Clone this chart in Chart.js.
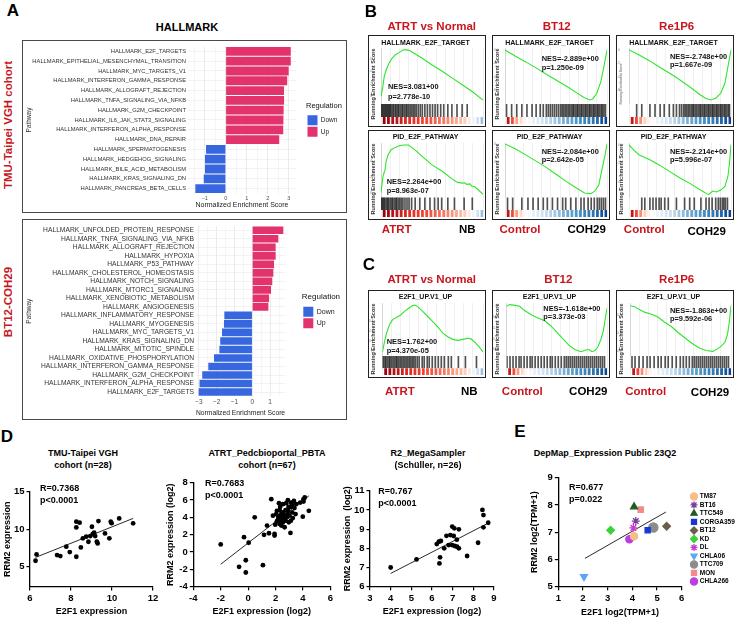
<!DOCTYPE html>
<html>
<head>
<meta charset="utf-8">
<title>E2F1 / RRM2 figure</title>
<script src="https://cdn.jsdelivr.net/npm/chart.js@4.4.1/dist/chart.umd.min.js"></script>
<style>
  html, body { margin: 0; padding: 0; background: #fff; }
  #fig { position: relative; width: 740px; height: 619px; overflow: hidden; background: #fff;
         font-family: 'Liberation Sans', Arial, Helvetica, sans-serif; }
  #fig canvas { position: absolute; }
  .t { position: absolute; white-space: nowrap; line-height: 1; }
  .frame { position: absolute; box-sizing: border-box; pointer-events: none; }
</style>
</head>
<body>
<div id="fig"></div>
<script>
// ---------- A: hallmark NES bars ----------
const tmuPathways = [
  'HALLMARK_E2F_TARGETS', 'HALLMARK_EPITHELIAL_MESENCHYMAL_TRANSITION', 'HALLMARK_MYC_TARGETS_V1',
  'HALLMARK_INTERFERON_GAMMA_RESPONSE', 'HALLMARK_ALLOGRAFT_REJECTION', 'HALLMARK_TNFA_SIGNALING_VIA_NFKB',
  'HALLMARK_G2M_CHECKPOINT', 'HALLMARK_IL6_JAK_STAT3_SIGNALING', 'HALLMARK_INTERFERON_ALPHA_RESPONSE',
  'HALLMARK_DNA_REPAIR', 'HALLMARK_SPERMATOGENESIS', 'HALLMARK_HEDGEHOG_SIGNALING',
  'HALLMARK_BILE_ACID_METABOLISM', 'HALLMARK_KRAS_SIGNALING_DN', 'HALLMARK_PANCREAS_BETA_CELLS',
];
const tmuNes = [3.1, 3.1, 3.0, 2.93, 2.78, 2.78, 2.76, 2.75, 2.74, 2.55, -0.94, -0.99, -0.99, -1.05, -1.45];
const tmuNesTicks = [-1.5, -1, -0.5, 0, 0.5, 1, 1.5, 2, 2.5, 3];

const bt12Pathways = [
  'HALLMARK_UNFOLDED_PROTEIN_RESPONSE', 'HALLMARK_TNFA_SIGNALING_VIA_NFKB', 'HALLMARK_ALLOGRAFT_REJECTION',
  'HALLMARK_HYPOXIA', 'HALLMARK_P53_PATHWAY', 'HALLMARK_CHOLESTEROL_HOMEOSTASIS', 'HALLMARK_NOTCH_SIGNALING',
  'HALLMARK_MTORC1_SIGNALING', 'HALLMARK_XENOBIOTIC_METABOLISM', 'HALLMARK_ANGIOGENESIS',
  'HALLMARK_INFLAMMATORY_RESPONSE', 'HALLMARK_MYOGENESIS', 'HALLMARK_MYC_TARGETS_V1',
  'HALLMARK_KRAS_SIGNALING_DN', 'HALLMARK_MITOTIC_SPINDLE', 'HALLMARK_OXIDATIVE_PHOSPHORYLATION',
  'HALLMARK_INTERFERON_GAMMA_RESPONSE', 'HALLMARK_G2M_CHECKPOINT', 'HALLMARK_INTERFERON_ALPHA_RESPONSE',
  'HALLMARK_E2F_TARGETS',
];
const bt12Nes = [1.74, 1.46, 1.31, 1.31, 1.22, 1.18, 1.12, 1.05, 0.94, 0.9,
  -1.57, -1.59, -1.7, -1.8, -1.85, -2.15, -2.47, -2.81, -2.96, -3.01];
const bt12NesTicks = [-3, -2.5, -2, -1.5, -1, -0.5, 0, 0.5, 1, 1.5];

// ---------- B / C: running enrichment scores (rank in % of list) ----------
const esE2fAtrtRank = [0, 1.6, 3.2, 5, 8, 11, 14, 18, 22, 25, 28, 32, 40, 50, 60, 70, 80, 90, 100];
const esE2fAtrt = [0, 0.13, 0.32, 0.42, 0.53, 0.61, 0.66, 0.7, 0.74, 0.74, 0.73, 0.69, 0.61, 0.5, 0.4, 0.29, 0.18, 0.07, -0.06];
const esE2fBt12Rank = [0, 10, 20, 30, 40, 50, 60, 70, 77, 83, 86, 90, 94, 97, 100];
const esE2fBt12 = [0, -0.09, -0.175, -0.265, -0.36, -0.45, -0.54, -0.64, -0.71, -0.75, -0.735, -0.65, -0.475, -0.25, 0];
const esE2fRe1p6Rank = [0, 10, 20, 30, 40, 50, 60, 70, 75, 80, 85, 90, 94, 97, 100];
const esE2fRe1p6 = [0, -0.075, -0.16, -0.26, -0.35, -0.45, -0.56, -0.675, -0.725, -0.75, -0.725, -0.65, -0.5, -0.25, 0];

const esPidAtrtRank = [0, 2, 4, 5, 7, 10, 14, 18, 22, 27, 30, 35, 40, 50, 60, 70, 75, 80, 82, 84, 87, 89, 92, 95, 100];
const esPidAtrt = [0, 0.21, 0.29, 0.39, 0.48, 0.54, 0.57, 0.59, 0.6, 0.6, 0.57, 0.52, 0.46, 0.35, 0.27, 0.17, 0.13, 0.12, 0.125, 0.105, 0.11, 0.085, 0.075, 0.04, -0.02];
const esPidBt12Rank = [0, 10, 20, 30, 40, 50, 60, 70, 78, 84, 88, 92, 95, 98, 100];
const esPidBt12 = [0, -0.055, -0.12, -0.19, -0.26, -0.34, -0.42, -0.495, -0.55, -0.557, -0.53, -0.46, -0.29, -0.13, 0];
const esPidRe1p6Rank = [0, 5, 10, 20, 30, 40, 50, 60, 70, 78, 82, 86, 90, 94, 97, 98.5, 100];
const esPidRe1p6 = [0, -0.06, -0.11, -0.16, -0.22, -0.29, -0.36, -0.42, -0.49, -0.54, -0.5, -0.51, -0.49, -0.45, -0.34, -0.2, 0];

const esE2f1AtrtRank = [0, 2, 4, 7, 10, 14, 18, 22, 26, 30, 32, 35, 40, 45, 50, 55, 60, 65, 70, 75, 80, 85, 88, 92, 96, 100];
const esE2f1Atrt = [0, 0.095, 0.18, 0.26, 0.31, 0.33, 0.355, 0.39, 0.42, 0.445, 0.45, 0.435, 0.39, 0.34, 0.29, 0.24, 0.18, 0.145, 0.12, 0.11, 0.12, 0.13, 0.125, 0.09, 0.05, 0];
const esE2f1Bt12Rank = [0, 3, 7, 13, 18, 25, 32, 38, 44, 50, 56, 62, 68, 74, 79, 82, 85, 88, 91, 94, 96.5, 98.5, 100];
const esE2f1Bt12 = [0, 0.015, 0.01, 0, -0.04, -0.08, -0.11, -0.135, -0.18, -0.24, -0.3, -0.36, -0.4, -0.42, -0.405, -0.4, -0.42, -0.41, -0.375, -0.305, -0.22, -0.1, -0.02];
const esE2f1Re1p6Rank = [0, 4, 7, 14, 20, 27, 34, 41, 47, 54, 61, 68, 75, 82, 86, 90, 94, 96.5, 98.5, 100];
const esE2f1Re1p6 = [0, -0.01, -0.03, -0.07, -0.09, -0.12, -0.18, -0.23, -0.29, -0.35, -0.41, -0.46, -0.49, -0.5, -0.475, -0.445, -0.4, -0.315, -0.165, 0];

// gene-set hit positions (barcode)
const hitsE2fAtrt = [0.5, 1.5, 2.5, 3.5, 4.5, 5.5, 6.5, 7.5, 8.5, 9.5, 10.5, 12, 13, 14.5, 15.5, 17, 18, 19.5, 21, 22, 23.5, 25, 26, 27.5, 29, 30.5, 32, 33.5, 35, 37, 39, 41, 43.5, 46, 48.5, 51, 53.5, 56, 59, 62, 66, 70, 75, 80, 85];
const hitsE2fBt12 = [2, 7, 12, 17, 22, 27, 31, 35, 38, 41, 43, 45, 47, 49, 51, 53, 55, 56.5, 58, 59.5, 61, 62.5, 64, 65.5, 67, 68, 69.5, 71, 72, 73.5, 75, 76, 77.5, 79, 80, 81.5, 83, 84, 85.5, 87, 88, 89.5, 91, 92, 93.5, 95, 96, 97.5, 99];
const hitsE2fRe1p6 = [8, 13, 21, 26, 31, 35, 40, 44, 47, 50, 52, 54, 55.5, 57, 58.5, 60, 61.5, 63, 64, 65.5, 67, 68.5, 70, 71, 72.5, 74, 75, 76.5, 78, 79, 80.5, 82, 83, 84.5, 86, 87, 88.5, 90, 91, 92.5, 94, 95, 96.5, 98, 99];
const hitsPidAtrt = [0.5, 1.5, 2.5, 3.5, 4.5, 6, 7, 8, 9.5, 11, 12, 13.5, 15, 16, 17.5, 19, 20.5, 22, 24, 26, 28, 30.5, 34, 38.5, 43.5, 48.5, 53, 56.5, 60, 66, 72.5, 82, 90];
const hitsPidBt12 = [3, 8, 17, 23, 28, 33, 38, 42, 47, 52, 57, 60, 65, 70, 75, 78, 82, 85, 88, 91, 93, 95, 97, 99];
const hitsPidRe1p6 = [13, 16, 21, 24, 27, 30, 32, 35.5, 39, 47, 55, 60, 64.5, 71, 76, 79, 82, 85.5, 88, 90, 92, 93.5, 95, 97];
const hitsE2f1Atrt = [0.5, 1.5, 3, 4, 5.5, 7, 8, 9.5, 11, 12.5, 14, 15, 16.5, 18, 19.5, 21, 22.5, 24, 25.5, 27, 28.5, 30, 31.5, 33, 35, 37, 40, 42, 45, 47, 50, 53, 56, 59, 62, 66, 69, 76, 83, 94];
const hitsE2f1Bt12 = [1, 4, 7, 10, 13, 15, 18, 21, 24, 26, 29, 32, 35, 38, 41, 44, 46, 49, 52, 55, 58, 60, 62, 64, 66, 68, 70, 72, 74, 76, 78, 80, 82, 84, 86, 88, 90, 92, 94, 96, 98];
const hitsE2f1Re1p6 = [2, 5, 9, 13, 17, 20, 24, 28, 31, 35, 38, 42, 46, 50, 53, 56, 59, 62, 64, 66, 68, 70, 72, 74, 76, 78, 80, 82, 84, 86, 88, 90, 92, 94, 96, 98];

// ranked-list metric strips (+ red, - blue)
const rampAtrtNb = [1, 0.95, 0.9, 0.85, 0.8, 0.76, 0.72, 0.69, 0.66, 0.63, 0.6, 0.57, 0.54, 0.5, 0.46, 0.42, 0.37, 0.32, 0.26, 0.18, 0.08, -0.08, -0.25, -0.42];
const rampBt12 = [0.85, 0.6, 0.35, 0.15, 0.03, -0.05, -0.12, -0.18, -0.24, -0.3, -0.35, -0.4, -0.45, -0.5, -0.54, -0.58, -0.62, -0.66, -0.7, -0.74, -0.78, -0.84, -0.92, -1];
const rampRe1p6 = [0.85, 0.62, 0.4, 0.18, 0.05, -0.03, -0.1, -0.16, -0.22, -0.28, -0.34, -0.4, -0.45, -0.5, -0.55, -0.59, -0.63, -0.67, -0.71, -0.75, -0.8, -0.86, -0.93, -1];

const nesE2fAtrt = ['NES=3.081+00', 'p=2.778e-10'];
const nesE2fBt12 = ['NES=-2.889e+00', 'p=1.250e-09'];
const nesE2fRe1p6 = ['NES=-2.748e+00', 'p=1.667e-09'];
const nesPidAtrt = ['NES=2.264e+00', 'p=8.963e-07'];
const nesPidBt12 = ['NES=-2.084e+00', 'p=2.642e-05'];
const nesPidRe1p6 = ['NES=-2.214e+00', 'p=5.996e-07'];
const nesE2f1Atrt = ['NES=1.762+00', 'p=4.370e-05'];
const nesE2f1Bt12 = ['NES=-1.618e+00', 'p=3.373e-03'];
const nesE2f1Re1p6 = ['NES=-1.863e+00', 'p=9.592e-06'];

// ---------- D: E2F1 vs RRM2 ----------
const tmuE2f1 = [6.27, 6.32, 7.32, 7.48, 7.77, 7.94, 8.26, 8.26, 8.42, 8.26, 8.48, 8.58, 8.74, 8.85, 8.94, 9.02, 9.06, 9.13, 9.18, 9.26, 9.34, 9.3, 9.66, 9.87, 9.94, 9.98, 10.35, 11.03];
const tmuRrm2 = [5.8, 6.64, 6.56, 6.42, 7.67, 6.96, 6.33, 11.0, 10.87, 10.24, 7.58, 8.78, 9.0, 8.33, 9.09, 10.33, 9.36, 9.53, 9.09, 8.33, 11.09, 8.11, 9.44, 8.78, 11.0, 10.8, 11.44, 10.78];
const tmuFitX = [6.27, 11.03];
const tmuFitY = [6.24, 11.44];

const pbtaE2f1 = [-2.0, -0.66, -0.3, -0.17, -0.17, 0.04, 0.48, 1.08, 1.16, 1.38, 1.52, 1.69, 1.81, 1.93, 1.93, 2.05, 2.17, 2.25, 2.3, 2.34,
  2.42, 2.42, 2.49, 2.54, 2.54, 2.59, 2.66, 2.73, 2.78, 2.83, 2.9, 2.92, 2.97, 3.02, 3.09, 3.14, 3.14, 3.22, 3.26, 3.34,
  3.38, 3.46, 3.51, 3.8, 3.99, 4.04, 4.13, 4.04, 4.43, 2.1, 2.3, 2.54, 2.73, 2.2, 2.44, 2.63, 2.88, 2.34, 2.1, 1.98,
  3.12, 2.6, 2.48, 2.7, 2.38, 3.2, 2.95];
const pbtaRrm2 = [0.88, -1.71, 1.71, -0.95, -2.36, 1.07, 4.0, -1.52, 1.98, 3.05, 2.17, 6.1, 4.19, 2.1, 1.9, 4.38, 3.7, 5.64, 4.84, 4.19,
  3.62, 3.05, 3.92, 5.52, 4.57, 4.19, 2.86, 3.62, 5.64, 4.0, 5.98, 4.76, 3.43, 4.19, 2.21, 5.71, 5.22, 4.57, 3.92, 5.9,
  5.07, 4.38, 5.52, 5.71, 4.08, 6.1, 6.29, 5.83, 4.76, 4.76, 3.24, 3.43, 4.84, 4.08, 4.46, 3.81, 4.46, 5.22, 3.54, 3.16,
  3.62, 3.95, 4.25, 4.1, 3.85, 5.45, 5.2];
const pbtaFitX = [-2.0, 4.43];
const pbtaFitY = [-1.41, 6.48];

const r2E2f1 = [4.0, 5.25, 6.23, 6.33, 6.43, 6.39, 6.36, 6.59, 6.8, 6.89, 7.05, 6.97, 6.98, 7.08, 7.21, 7.3, 7.2, 7.3, 7.7, 8.23, 8.44, 8.49, 8.49, 8.72, 7.1, 6.7];
const r2Rrm2 = [7.0, 7.42, 8.22, 8.34, 8.38, 7.53, 7.21, 8.0, 8.17, 8.69, 8.64, 8.17, 9.13, 9.04, 8.08, 8.99, 8.45, 8.0, 7.6, 8.29, 10.0, 9.73, 9.09, 9.33, 8.12, 8.65];
const r2FitX = [4.0, 8.7];
const r2FitY = [6.69, 9.3];

// ---------- E: DepMap cell lines ----------
const depmapLines = ['TM87', 'BT16', 'TTC549', 'CORGA359', 'BT12', 'KD', 'DL', 'CHLA06', 'TTC709', 'MON', 'CHLA266'];
const depmapE2f1 = [4.07, 4.14, 4.07, 4.62, 5.39, 3.12, 4.04, 2.04, 4.85, 4.34, 3.88];
const depmapRrm2 = [6.85, 7.41, 7.93, 7.07, 7.22, 7.07, 7.16, 5.37, 7.17, 7.83, 6.74];
const depmapFitX = [2.08, 5.36];
const depmapFitY = [6.04, 7.74];

// ================= drawing =================
const RED_TXT = '#c8161d';
const UP = '#e2336d';
const DOWN = '#3767df';
const GREEN = '#2de52d';
Chart.defaults.font.family = "'Liberation Sans', Arial, Helvetica, sans-serif";

const fig = document.getElementById('fig');

function txt(s, x, y, size, o = {}) {
  const d = document.createElement('div');
  d.className = 't';
  d.textContent = s;
  d.style.left = x + 'px';
  d.style.top = y + 'px';
  d.style.fontSize = size + 'px';
  d.style.fontWeight = o.bold === false ? 'normal' : 'bold';
  d.style.color = o.color || '#000';
  const tx = o.align === 'left' ? '0' : '-50%';
  d.style.transform = `translate(${tx},-50%)` + (o.rotate ? ' rotate(-90deg)' : '');
  fig.appendChild(d);
}

function canvasAt(x, y, w, h) {
  const c = document.createElement('canvas');
  c.width = w;
  c.height = h;
  c.style.left = x + 'px';
  c.style.top = y + 'px';
  c.style.width = w + 'px';
  c.style.height = h + 'px';
  fig.appendChild(c);
  return c;
}

function frame(x, y, w, h, border) {
  const d = document.createElement('div');
  d.className = 'frame';
  Object.assign(d.style, { left: x + 'px', top: y + 'px', width: w + 'px', height: h + 'px', border });
  fig.appendChild(d);
}

const RAMP_RED = [[0, [255, 255, 255]], [0.3, [252, 174, 145]], [0.65, [239, 59, 44]], [1, [153, 0, 13]]];
const RAMP_BLUE = [[0, [255, 255, 255]], [0.3, [198, 219, 239]], [0.65, [66, 146, 198]], [1, [8, 69, 148]]];
function rampColor(v) {
  const stops = v >= 0 ? RAMP_RED : RAMP_BLUE;
  const a = Math.min(1, Math.abs(v));
  for (let i = 1; i < stops.length; i++) {
    if (a <= stops[i][0]) {
      const [a0, c0] = stops[i - 1];
      const [a1, c1] = stops[i];
      const f = (a - a0) / (a1 - a0);
      return `rgb(${c0.map((c, k) => Math.round(c + (c1[k] - c) * f)).join(',')})`;
    }
  }
  return 'rgb(8,69,148)';
}

// ---- A ----
function hallmarkChart(c, pathways, nes, ticks, o) {
  return new Chart(c, {
    type: 'bar',
    data: {
      labels: pathways,
      datasets: [
        { label: 'Down', data: nes.map((v) => (v < 0 ? v : null)), backgroundColor: DOWN, grouped: false,
          barPercentage: 0.9, categoryPercentage: 1, xAxisID: 'x', yAxisID: 'y' },
        { label: 'Up', data: nes.map((v) => (v > 0 ? v : null)), backgroundColor: UP, grouped: false,
          barPercentage: 0.9, categoryPercentage: 1, xAxisID: 'x', yAxisID: 'y' },
      ],
    },
    options: {
      indexAxis: 'y',
      responsive: false,
      animation: false,
      layout: { padding: { left: 0, top: o.top, right: o.right, bottom: 0 } },
      plugins: {
        tooltip: { enabled: false },
        legend: {
          position: 'right',
          fullSize: false,
          maxWidth: o.legendW,
          title: { display: true, text: 'Regulation', position: 'start', color: '#111',
            font: { size: o.legendTitle }, padding: { top: 0, bottom: 3 } },
          labels: { boxWidth: 10, boxHeight: 10, padding: 1.5, color: '#222', font: { size: o.legendFont } },
        },
      },
      scales: {
        x: {
          type: 'linear', min: o.min, max: o.max,
          afterBuildTicks: (s) => { s.ticks = ticks.map((value) => ({ value })); },
          afterFit: (s) => { s.height = o.xh; },
          ticks: { autoSkip: false, maxRotation: 0, padding: o.tickPad, color: '#4d4d4d', font: { size: o.tickFont },
            callback: (v) => (Number.isInteger(v) ? String(v).replace('-', '\u2212') : '') },
          grid: { drawTicks: false, lineWidth: 0.7,
            color: (ctx) => (ctx.tick && Number.isInteger(ctx.tick.value) ? '#e3e3e3' : '#f1f1f1') },
          border: { display: false },
          title: { display: true, text: 'Normalized Enrichment Score', color: '#1a1a1a', font: { size: o.titleFont },
            padding: { top: 0, bottom: o.titlePad } },
        },
        y: {
          afterFit: (s) => { s.width = o.yw; },
          ticks: { autoSkip: false, padding: 2, color: '#333', font: { size: o.labelFont } },
          grid: { offset: false, drawTicks: false, lineWidth: 0.7, color: '#ececec' },
          border: { display: false },
          title: { display: true, text: 'Pathway', color: '#333', font: { size: 6.5 }, padding: { top: o.pathPad, bottom: 0 } },
        },
        gap: {
          type: 'linear', position: 'right',
          afterFit: (s) => { s.width = o.gap; },
          ticks: { display: false }, grid: { display: false }, border: { display: false },
        },
      },
    },
  });
}

txt('A', 13, 10, 17);
txt('HALLMARK', 187, 27, 11);
txt('TMU-Taipei VGH cohort', 9, 125, 11.5, { rotate: true, color: RED_TXT });
txt('BT12-COH29', 9, 302, 11.5, { rotate: true, color: RED_TXT });

hallmarkChart(canvasAt(24, 41, 321, 171), tmuPathways, tmuNes, tmuNesTicks, {
  top: 0.5, right: 0, yw: 164, xh: 18.5, gap: 10, legendW: 39, min: -1.8, max: 3.35,
  labelFont: 5.8, tickFont: 5.5, tickPad: 1.5, titleFont: 7, titlePad: 2.6, pathPad: 1.7,
  legendTitle: 7.5, legendFont: 6.5,
});
frame(22, 40, 325, 173, '1px solid #4a4a4a');

hallmarkChart(canvasAt(24, 220, 321, 199), bt12Pathways, bt12Nes, bt12NesTicks, {
  top: 0.7, right: 0.3, yw: 172, xh: 22.7, gap: 16.7, legendW: 43, min: -3.16, max: 1.84,
  labelFont: 6.7, tickFont: 6.5, tickPad: 2.5, titleFont: 8, titlePad: 1.8, pathPad: 1.7,
  legendTitle: 8, legendFont: 7,
});
frame(22, 219, 325, 201, '1px solid #4a4a4a');

// ---- B / C ----
const gseaRows = [
  { top: 35, h: 92, tp: 4.1, tb: 0.5, left: 13 },
  { top: 130, h: 90, tp: 3.1, tb: 1.5, left: 13 },
  { top: 290, h: 88, tp: 2.5, tb: 2.1, left: 14.5 },
];
const gseaColX = [368, 492, 616];
const gseaPanels = [
  { row: 0, col: 0, title: 'HALLMARK_E2F_TARGET', rank: esE2fAtrtRank, es: esE2fAtrt, hits: hitsE2fAtrt, ramp: rampAtrtNb,
    yr: [-0.12, 0.77], yTicks: [0, 0.2, 0.4, 0.6], nes: nesE2fAtrt, at: [388, 87.3, 96.7] },
  { row: 0, col: 1, title: 'HALLMARK_E2F_TARGET', rank: esE2fBt12Rank, es: esE2fBt12, hits: hitsE2fBt12, ramp: rampBt12,
    yr: [-0.81, 0.03], yTicks: [-0.6, -0.4, -0.2, 0], nes: nesE2fBt12, at: [541.7, 59.3, 67.6] },
  { row: 0, col: 2, title: 'HALLMARK_E2F_TARGET', rank: esE2fRe1p6Rank, es: esE2fRe1p6, hits: hitsE2fRe1p6, ramp: rampRe1p6,
    yr: [-0.81, 0.03], yTicks: [-0.6, -0.4, -0.2, 0], nes: nesE2fRe1p6, at: [670, 56.7, 65], small: true },
  { row: 1, col: 0, title: 'PID_E2F_PATHWAY', rank: esPidAtrtRank, es: esPidAtrt, hits: hitsPidAtrt, ramp: rampAtrtNb,
    yr: [-0.06, 0.625], yTicks: [0, 0.2, 0.4], nes: nesPidAtrt, at: [386.7, 181.7, 191.2] },
  { row: 1, col: 1, title: 'PID_E2F_PATHWAY', rank: esPidBt12Rank, es: esPidBt12, hits: hitsPidBt12, ramp: rampBt12,
    yr: [-0.6, 0.01], yTicks: [-0.4, -0.2, 0], nes: nesPidBt12, at: [541.7, 151.7, 160.2] },
  { row: 1, col: 2, title: 'PID_E2F_PATHWAY', rank: esPidRe1p6Rank, es: esPidRe1p6, hits: hitsPidRe1p6, ramp: rampRe1p6,
    yr: [-0.57, 0.02], yTicks: [-0.4, -0.2, 0], nes: nesPidRe1p6, at: [670, 151.7, 160.2] },
  { row: 2, col: 0, title: 'E2F1_UP.V1_UP', rank: esE2f1AtrtRank, es: esE2f1Atrt, hits: hitsE2f1Atrt, ramp: rampAtrtNb,
    yr: [-0.04, 0.47], yTicks: [0, 0.1, 0.2, 0.3], nes: nesE2f1Atrt, at: [386.7, 342.3, 350.5] },
  { row: 2, col: 1, title: 'E2F1_UP.V1_UP', rank: esE2f1Bt12Rank, es: esE2f1Bt12, hits: hitsE2f1Bt12, ramp: rampBt12,
    yr: [-0.46, 0.03], yTicks: [-0.4, -0.3, -0.2, -0.1, 0], nes: nesE2f1Bt12, at: [543.3, 309, 317.3] },
  { row: 2, col: 2, title: 'E2F1_UP.V1_UP', rank: esE2f1Re1p6Rank, es: esE2f1Re1p6, hits: hitsE2f1Re1p6, ramp: rampRe1p6,
    yr: [-0.55, 0.03], yTicks: [-0.5, -0.4, -0.3, -0.2, -0.1, 0], nes: nesE2f1Re1p6, at: [670, 311, 319.3] },
];

function gseaChart(c, p, row) {
  return new Chart(c, {
    type: 'line',
    data: {
      datasets: [
        { type: 'line', data: p.rank.map((x, i) => ({ x, y: p.es[i] })), xAxisID: 'x', yAxisID: 'y',
          borderColor: GREEN, borderWidth: 1.1, pointRadius: 0, tension: 0 },
        { type: 'bar', data: p.hits.map((x) => ({ x, y: 1 })), xAxisID: 'x', yAxisID: 'yb',
          backgroundColor: 'rgba(15,15,15,0.72)', barThickness: 1 },
        { type: 'bar', data: p.ramp.map(() => 1), xAxisID: 'xr', yAxisID: 'yr',
          backgroundColor: p.ramp.map(rampColor), barPercentage: 1, categoryPercentage: 1 },
      ],
    },
    options: {
      responsive: false,
      animation: false,
      layout: { padding: { left: 0, top: 0, right: 3, bottom: 2.5 } },
      plugins: {
        legend: { display: false },
        tooltip: { enabled: false },
        title: { display: true, text: p.title, color: '#111', font: { size: 7, weight: 'bold' },
          padding: { top: row.tp, bottom: row.tb } },
      },
      scales: {
        x: {
          type: 'linear', min: 0, max: 100, offset: false,
          afterFit: (s) => { s.height = 0; },
          ticks: { display: false, stepSize: 9 },
          grid: { offset: false, drawTicks: false, color: '#e4e4e4', lineWidth: 0.6 },
          border: { display: false },
        },
        xr: { type: 'category', labels: p.ramp.map((_, i) => String(i)), offset: true, display: false },
        y: {
          type: 'linear', stack: 'gsea', stackWeight: 56, weight: 3, min: p.yr[0], max: p.yr[1],
          afterBuildTicks: (s) => { s.ticks = p.yTicks.map((value) => ({ value })); },
          afterFit: (s) => { s.width = row.left; },
          ticks: { color: '#8a8a8a', font: { size: 3.5 }, padding: 1 },
          grid: { display: false },
          border: { color: '#bbb', width: 0.5 },
        },
        yb: { type: 'linear', stack: 'gsea', stackWeight: 13, weight: 2, min: 0, max: 1, display: false },
        yr: { type: 'linear', stack: 'gsea', stackWeight: 7, weight: 1, min: 0, max: 1, display: false },
      },
    },
  });
}

for (const p of gseaPanels) {
  const row = gseaRows[p.row];
  const x = gseaColX[p.col];
  gseaChart(canvasAt(x, row.top, 118, row.h), p, row);
  frame(x, row.top, 118, row.h, '1.5px solid #222');
  txt('Running Enrichment Score', x + 5.5, row.top + 49, p.small ? 3.2 : 5.5, { rotate: true, color: p.small ? '#888' : '#333' });
  txt(p.nes[0], p.at[0], p.at[1], 7.4, { align: 'left', color: '#111' });
  txt(p.nes[1], p.at[0], p.at[2], 7.4, { align: 'left', color: '#111' });
}

txt('B', 371, 11, 17);
txt('ATRT vs Normal', 431.7, 26.7, 11.5, { color: RED_TXT });
txt('BT12', 556.7, 26.7, 11.5, { color: RED_TXT });
txt('Re1P6', 676.7, 26.7, 11.5, { color: RED_TXT });
txt('ATRT', 396.7, 230, 11.5, { color: RED_TXT });
txt('NB', 467.3, 230, 11.5);
txt('Control', 520, 230, 11.5, { color: RED_TXT });
txt('COH29', 586.7, 230, 11.5);
txt('Control', 644.3, 230, 11.5, { color: RED_TXT });
txt('COH29', 706.7, 231.7, 11.5);

txt('C', 369, 264, 17);
txt('ATRT vs Normal', 431.7, 280, 11.5, { color: RED_TXT });
txt('BT12', 558.3, 280, 11.5, { color: RED_TXT });
txt('Re1P6', 676.7, 280, 11.5, { color: RED_TXT });
txt('ATRT', 400, 391.7, 11.5, { color: RED_TXT });
txt('NB', 469.3, 391.7, 11.5);
txt('Control', 522.3, 391.7, 11.5, { color: RED_TXT });
txt('COH29', 588.3, 391.7, 11.5);
txt('Control', 645.7, 391.7, 11.5, { color: RED_TXT });
txt('COH29', 710, 392.7, 11.5);

// ---- D / E ----
function prismChart(c, o) {
  const tickFont = { size: 9.5, weight: 'bold' };
  const titleFont = { size: 9, weight: 'bold' };
  const grid = { drawOnChartArea: false, color: '#000', lineWidth: 1.2, tickLength: 3.5 };
  const border = { color: '#000', width: 1.3 };
  const datasets = o.series.concat([{
    label: 'fit', type: 'line', data: o.fitX.map((x, i) => ({ x, y: o.fitY[i] })),
    borderColor: '#111', borderWidth: 0.9, pointRadius: 0, xAxisID: 'x', yAxisID: 'y',
  }]);
  const scales = {
    x: {
      type: 'linear', min: o.xr[0], max: o.xr[1], grid, border,
      afterBuildTicks: (s) => { s.ticks = o.xTicks.map((value) => ({ value })); },
      afterFit: (s) => { s.height = o.xh; },
      ticks: { color: '#000', font: tickFont, padding: 2, maxRotation: 0, autoSkip: false },
      title: { display: true, text: o.xTitle, color: '#000', font: titleFont, padding: { top: 0, bottom: o.xtp } },
    },
    y: {
      type: 'linear', min: o.yr[0], max: o.yr[1], grid, border,
      afterBuildTicks: (s) => { s.ticks = o.yTicks.map((value) => ({ value })); },
      afterFit: (s) => { s.width = o.yw; },
      ticks: { color: '#000', font: tickFont, padding: 2, autoSkip: false },
      title: { display: true, text: o.yTitle, color: '#000', font: titleFont, padding: { top: o.ytp, bottom: 0 } },
    },
  };
  if (o.gap) {
    scales.gap = { type: 'linear', position: 'right', afterFit: (s) => { s.width = o.gap; },
      ticks: { display: false }, grid: { display: false }, border: { display: false } };
  }
  return new Chart(c, {
    type: 'scatter',
    data: { datasets },
    options: {
      responsive: false,
      animation: false,
      layout: { padding: o.pad },
      plugins: { tooltip: { enabled: false }, legend: o.legend || { display: false } },
      scales,
    },
  });
}

function blackDots(xs, ys) {
  return [{ label: 'samples', data: xs.map((x, i) => ({ x, y: ys[i] })), backgroundColor: '#000', borderColor: '#000',
    pointRadius: 2.4, borderWidth: 0, xAxisID: 'x', yAxisID: 'y' }];
}

txt('D', 7, 436, 17);
txt('TMU-Taipei VGH', 83, 453, 9);
txt('cohort (n=28)', 83, 465, 9);
prismChart(canvasAt(0, 475, 165, 144), {
  series: blackDots(tmuE2f1, tmuRrm2), fitX: tmuFitX, fitY: tmuFitY,
  xr: [6, 12], yr: [2.3, 15], xTicks: [6, 8, 10, 12], yTicks: [5, 10, 15],
  xTitle: 'E2F1 expression', yTitle: 'RRM2 expression',
  pad: { left: 0, top: 16.7, right: 12, bottom: 0 }, yw: 30, xh: 32, xtp: 1.6, ytp: 2.6,
});
txt('R=0.7368', 40, 488.3, 9, { align: 'left' });
txt('p<0.0001', 40, 500, 9, { align: 'left' });

txt('ATRT_Pedcbioportal_PBTA', 267, 453, 9);
txt('cohort (n=67)', 267, 465, 9);
prismChart(canvasAt(165, 475, 170, 144), {
  series: blackDots(pbtaE2f1, pbtaRrm2), fitX: pbtaFitX, fitY: pbtaFitY,
  xr: [-4, 6], yr: [-4, 8], xTicks: [-4, -2, 0, 2, 4, 6], yTicks: [-4, -2, 0, 2, 4, 6, 8],
  xTitle: 'E2F1 expression (log2)', yTitle: 'RRM2 expression (log2)',
  pad: { left: 0, top: 6.7, right: 4, bottom: 0 }, yw: 28.3, xh: 32.3, xtp: 1.6, ytp: 0,
});
txt('R=0.7683', 205, 483.3, 9, { align: 'left' });
txt('p<0.0001', 205, 494.5, 9, { align: 'left' });

txt('R2_MegaSampler', 428, 453, 9);
txt('(Schüller, n=26)', 428, 465, 9);
prismChart(canvasAt(338, 475, 162, 144), {
  series: blackDots(r2E2f1, r2Rrm2), fitX: r2FitX, fitY: r2FitY,
  xr: [3, 9], yr: [6, 11], xTicks: [3, 4, 5, 6, 7, 8, 9], yTicks: [6, 7, 8, 9, 10, 11],
  xTitle: 'E2F1 expression (log2)', yTitle: 'RRM2 expression  (log2)',
  pad: { left: 0, top: 15.7, right: 6, bottom: 0 }, yw: 32, xh: 32.3, xtp: 1.6, ytp: 4.6,
});
txt('R=0.767', 378.3, 490.7, 9, { align: 'left' });
txt('p<0.0001', 378.3, 502.7, 9, { align: 'left' });

const depmapStyles = [
  { color: '#f6bd8a', style: 'circle', r: 3.6 },
  { color: '#7b3b9c', style: 'star', r: 4 },
  { color: '#1b5e20', style: 'triangle', r: 4 },
  { color: '#1537d6', style: 'rect', r: 3.6 },
  { color: '#6d5e4b', style: 'rectRot', r: 3.8 },
  { color: '#39d239', style: 'rectRot', r: 3.8 },
  { color: '#c63ccf', style: 'star', r: 4 },
  { color: '#5aa7f2', style: 'triangle', r: 4, rot: 180 },
  { color: '#8b8b8b', style: 'circle', r: 4.6 },
  { color: '#f28c8c', style: 'rect', r: 3.8 },
  { color: '#b93fe0', style: 'circle', r: 3.6 },
];

txt('E', 520, 431, 17);
txt('DepMap_Expression Public 23Q2', 605, 453.3, 9);
prismChart(canvasAt(528, 470, 212, 149), {
  series: depmapLines.map((name, i) => ({
    label: name, data: [{ x: depmapE2f1[i], y: depmapRrm2[i] }],
    backgroundColor: depmapStyles[i].color, borderColor: depmapStyles[i].color, borderWidth: 1.3,
    pointStyle: depmapStyles[i].style, pointRadius: depmapStyles[i].r, rotation: depmapStyles[i].rot || 0,
    xAxisID: 'x', yAxisID: 'y',
  })),
  fitX: depmapFitX, fitY: depmapFitY,
  xr: [1, 6], yr: [5, 9], xTicks: [1, 2, 3, 4, 5, 6], yTicks: [5, 6, 7, 8, 9],
  xTitle: 'E2F1 log2(TPM+1)', yTitle: 'RRM2 log2(TPM+1)',
  pad: { left: 0, top: 7.3, right: 0.5, bottom: 0 }, yw: 30.3, xh: 32.3, xtp: 0.6, ytp: 1.6, gap: 7.8,
  legend: {
    position: 'right', align: 'end', fullSize: false, maxWidth: 50,
    labels: { usePointStyle: true, boxWidth: 5, boxHeight: 5, padding: 2, color: '#000',
      font: { size: 6.5, weight: 'bold' }, filter: (item) => item.text !== 'fit' },
  },
});
txt('R=0.677', 569, 487.3, 9, { align: 'left' });
txt('p=0.022', 569, 499.3, 9, { align: 'left' });
</script>
</body>
</html>
